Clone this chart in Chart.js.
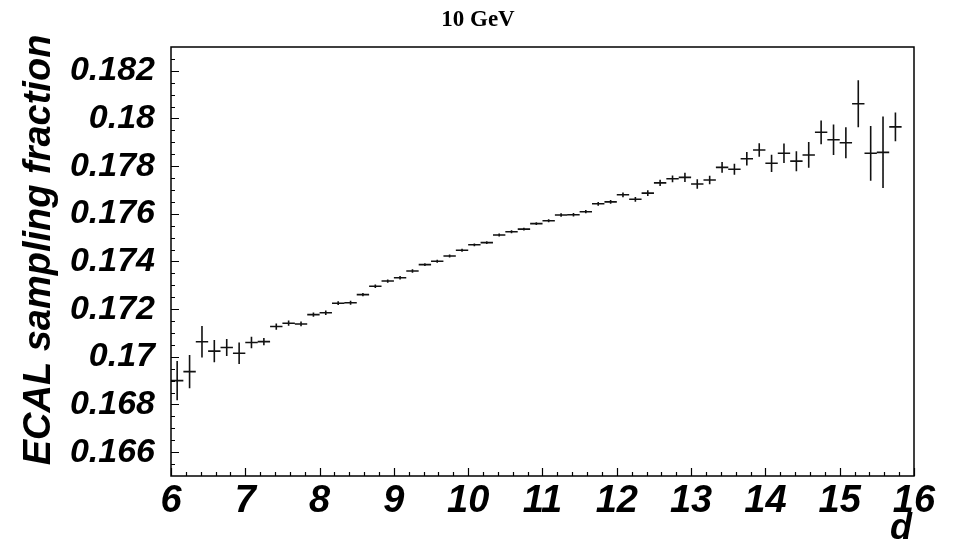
<!DOCTYPE html>
<html>
<head>
<meta charset="utf-8">
<script src="https://cdn.jsdelivr.net/npm/chart.js@4/dist/chart.umd.min.js"></script>
<style>
  html, body { margin: 0; padding: 0; background: #fff; }
  #wrap { width: 955px; height: 542px; }
</style>
</head>
<body>
<div id="wrap"><canvas id="fracChart" width="955" height="542"></canvas></div>
<script>
// bin centres in d (bin width 1/6)
const binCenters = [
    6.083, 6.250, 6.417, 6.583, 6.750, 6.917,
    7.083, 7.250, 7.417, 7.583, 7.750, 7.917,
    8.083, 8.250, 8.417, 8.583, 8.750, 8.917,
    9.083, 9.250, 9.417, 9.583, 9.750, 9.917,
    10.083, 10.250, 10.417, 10.583, 10.750, 10.917,
    11.083, 11.250, 11.417, 11.583, 11.750, 11.917,
    12.083, 12.250, 12.417, 12.583, 12.750, 12.917,
    13.083, 13.250, 13.417, 13.583, 13.750, 13.917,
    14.083, 14.250, 14.417, 14.583, 14.750, 14.917,
    15.083, 15.250, 15.417, 15.583, 15.750
];
const binWidth = 1 / 6;

// sampling fraction per bin
const fraction = [
    0.16900, 0.16938, 0.17063, 0.17024, 0.17039, 0.17015,
    0.17060, 0.17064, 0.17127, 0.17141, 0.17138, 0.17177,
    0.17185, 0.17225, 0.17227, 0.17261, 0.17296, 0.17318,
    0.17332, 0.17360, 0.17387, 0.17401, 0.17423, 0.17447,
    0.17470, 0.17479, 0.17511, 0.17525, 0.17536, 0.17559,
    0.17571, 0.17595, 0.17596, 0.17609, 0.17642, 0.17650,
    0.17680, 0.17661, 0.17687, 0.17730, 0.17747, 0.17753,
    0.17725, 0.17742, 0.17795, 0.17787, 0.17831, 0.17868,
    0.17812, 0.17854, 0.17821, 0.17847, 0.17942, 0.17911,
    0.17898, 0.18062, 0.17854, 0.17858, 0.17965
];

// statistical error per bin
const fractionErr = [
    0.00082, 0.00070, 0.00066, 0.00047, 0.00036, 0.00045,
    0.00024, 0.00015, 0.00013, 0.00011, 0.00010, 0.00009,
    0.00009, 0.00008, 0.00008, 0.00007, 0.00007, 0.00007,
    0.00007, 0.00007, 0.00006, 0.00006, 0.00006, 0.00006,
    0.00006, 0.00006, 0.00006, 0.00006, 0.00006, 0.00006,
    0.00006, 0.00007, 0.00007, 0.00007, 0.00008, 0.00008,
    0.00010, 0.00010, 0.00012, 0.00013, 0.00014, 0.00019,
    0.00020, 0.00018, 0.00023, 0.00023, 0.00028, 0.00028,
    0.00036, 0.00041, 0.00042, 0.00054, 0.00050, 0.00064,
    0.00065, 0.00099, 0.00115, 0.00150, 0.00060
];

const xTicks = [6, 7, 8, 9, 10, 11, 12, 13, 14, 15, 16];
const yTicks = [0.166, 0.168, 0.170, 0.172, 0.174, 0.176, 0.178, 0.180, 0.182];
const yTickLabels = ["0.166", "0.168", "0.17", "0.172", "0.174", "0.176", "0.178", "0.18", "0.182"];

const titleText = "10 GeV";
const xTitle = "d";
const yTitle = "ECAL sampling fraction";

const W = 955, H = 542;
const frame = { left: 171, top: 47, right: 914, bottom: 476 };

// frame, ROOT-style inward ticks, error crosses and titles
const rootStyle = {
    id: "rootStyle",
    afterDatasetsDraw(chart) {
        const ctx = chart.ctx;
        const xs = chart.scales.x, ys = chart.scales.y;
        const a = chart.chartArea;
        ctx.save();

        // error bars
        ctx.strokeStyle = "#111";
        ctx.lineWidth = 1.6;
        ctx.beginPath();
        binCenters.forEach((x, i) => {
            const px = xs.getPixelForValue(x);
            const py = ys.getPixelForValue(fraction[i]);
            const x0 = xs.getPixelForValue(x - binWidth / 2);
            const x1 = xs.getPixelForValue(x + binWidth / 2);
            ctx.moveTo(x0, py);
            ctx.lineTo(x1, py);
            ctx.moveTo(px, ys.getPixelForValue(fraction[i] - fractionErr[i]));
            ctx.lineTo(px, ys.getPixelForValue(fraction[i] + fractionErr[i]));
        });
        ctx.stroke();

        // frame
        ctx.strokeStyle = "#000";
        ctx.lineWidth = 1.5;
        ctx.strokeRect(a.left, a.top, a.right - a.left, a.bottom - a.top);

        // ticks on bottom axis
        ctx.lineWidth = 1.2;
        ctx.beginPath();
        for (let v = 6; v <= 16.001; v += 0.2) {
            const px = Math.round(xs.getPixelForValue(v)) + 0.5;
            const major = Math.abs(v - Math.round(v)) < 1e-6;
            ctx.moveTo(px, a.bottom);
            ctx.lineTo(px, a.bottom - (major ? 8 : 4));
        }
        // ticks on left axis
        for (let v = 0.1655; v <= 0.1830; v += 0.0005) {
            const py = Math.round(ys.getPixelForValue(v)) + 0.5;
            const major = yTicks.some(t => Math.abs(t - v) < 1e-7);
            ctx.moveTo(a.left, py);
            ctx.lineTo(a.left + (major ? 8 : 4), py);
        }
        ctx.stroke();

        // titles
        ctx.fillStyle = "#000";
        ctx.font = "bold 23px 'Liberation Serif'";
        ctx.textAlign = "center";
        ctx.textBaseline = "alphabetic";
        ctx.fillText(titleText, 478, 26);

        ctx.font = "italic bold 36px 'Liberation Sans'";
        ctx.textAlign = "right";
        ctx.fillText(xTitle, 912, 539);

        ctx.save();
        ctx.translate(50, 250);
        ctx.rotate(-Math.PI / 2);
        ctx.font = "italic bold 38px 'Liberation Sans'";
        ctx.textAlign = "center";
        ctx.fillText(yTitle, 0, 0);
        ctx.restore();

        ctx.restore();
    }
};

const ctx = document.getElementById("fracChart").getContext("2d");
new Chart(ctx, {
    type: "scatter",
    data: {
        datasets: [{
            data: binCenters.map((x, i) => ({ x: x, y: fraction[i] })),
            pointRadius: 0,
            showLine: false
        }]
    },
    options: {
        responsive: false,
        animation: false,
        events: [],
        layout: {
            padding: { left: 0, top: frame.top, right: W - frame.right, bottom: 0 }
        },
        plugins: {
            legend: { display: false },
            tooltip: { enabled: false }
        },
        scales: {
            x: {
                type: "linear",
                min: 6,
                max: 16,
                grid: { display: false },
                border: { display: false },
                afterBuildTicks: s => { s.ticks = xTicks.map(v => ({ value: v })); },
                afterFit: s => { s.height = H - frame.bottom; },
                ticks: {
                    autoSkip: false,
                    maxRotation: 0,
                    padding: -5,
                    color: "#000",
                    font: { family: "'Liberation Sans'", size: 38, style: "italic", weight: "bold" },
                    callback: v => String(v)
                }
            },
            y: {
                type: "linear",
                min: 0.165,
                max: 0.183,
                grid: { display: false },
                border: { display: false },
                afterBuildTicks: s => { s.ticks = yTicks.map(v => ({ value: v })); },
                afterFit: s => { s.width = frame.left; },
                ticks: {
                    autoSkip: false,
                    padding: 8,
                    color: "#000",
                    font: { family: "'Liberation Sans'", size: 34, style: "italic", weight: "bold" },
                    callback: (v, i) => yTickLabels[i]
                }
            }
        }
    },
    plugins: [rootStyle]
});
</script>
</body>
</html>
